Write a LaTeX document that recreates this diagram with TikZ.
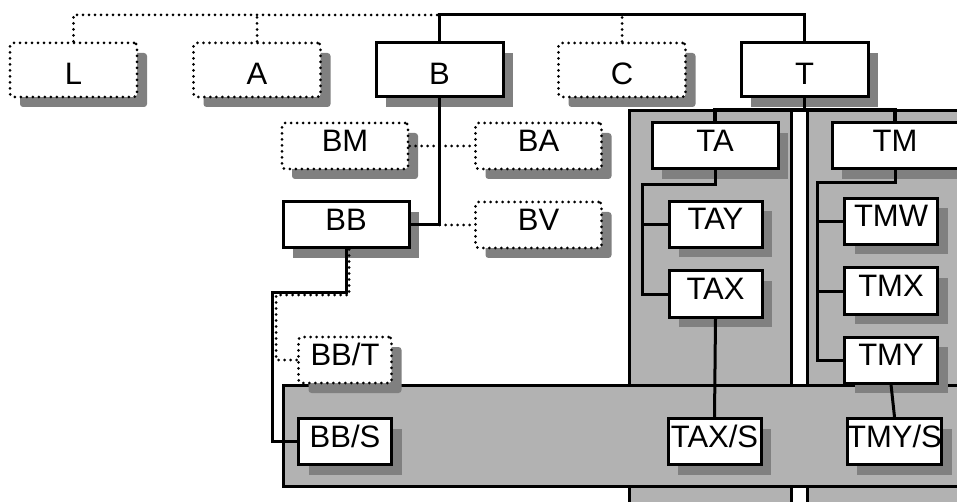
\documentclass[tikz,border=0pt]{standalone}
\usepackage{fontspec}
\setmainfont{Liberation Sans}
\usetikzlibrary{shadows}
\definecolor{panelgray}{gray}{0.7}
\definecolor{shadegray}{gray}{0.5}
\begin{document}
\begin{tikzpicture}[x=1pt,y=-1pt,
    box/.style={draw, line width=3pt, fill=white, inner sep=0pt, font=\fontsize{31}{36}\selectfont,
        drop shadow={shadow xshift=10pt, shadow yshift=-10pt, fill=shadegray, opacity=1}},
    dotbox/.style={box, dash pattern=on 0pt off 6pt, line cap=round, rounded corners=3pt},
    big/.style={minimum width=127pt, minimum height=54pt, text height=30pt, text depth=0pt},
    mid/.style={minimum width=126pt, minimum height=46pt, text height=22pt, text depth=11pt},
    small/.style={minimum width=93pt, minimum height=46pt, text height=22pt, text depth=11pt},
    conn/.style={line width=3pt},
    dotconn/.style={line width=3pt, dash pattern=on 0pt off 6pt, line cap=round},
    panel/.style={draw, line width=3pt, fill=panelgray}]
    \clip (0,0) rectangle (957,502);
    \useasboundingbox (0,0) rectangle (957,502);
    % grey areas
    \draw[panel] (629,111) rectangle (791,530);
    \draw[panel] (807,111) rectangle (970,530);
    \draw[panel] (283,385) rectangle (970,486);
    \coordinate (rootbar) at (0,15);
    \coordinate (tbar) at (0,110);
    % top row
    \node[dotbox, big] (L) at (73.5,70) {L};
    \node[dotbox, big] (A) at (257,70) {A};
    \node[box, big] (B) at (439.5,70) {B};
    \node[dotbox, big] (C) at (622,70) {C};
    \node[box, big] (T) at (804.5,70) {T};
    % B branch
    \node[dotbox, mid] (BM) at (345,146) {BM};
    \node[dotbox, mid] (BA) at (538.5,146) {BA};
    \node[box, mid] (BB) at (346,225) {BB};
    \node[dotbox, mid] (BV) at (538.5,225) {BV};
    \node[dotbox, small] (BBT) at (345,360) {BB/T};
    \node[box, small] (BBS) at (345,441.5) {BB/S};
    % T branch
    \node[box, mid] (TA) at (715,146) {TA};
    \node[box, mid] (TM) at (895,146) {TM};
    \node[box, small] (TAY) at (715.5,224.5) {TAY};
    \node[box, small] (TAX) at (715.5,294) {TAX};
    \node[box, small] (TAXS) at (714.5,441.5) {TAX/S};
    \node[box, small] (TMW) at (891,221.5) {TMW};
    \node[box, small] (TMX) at (891,291) {TMX};
    \node[box, small] (TMY) at (891,360) {TMY};
    \node[box, small] (TMYS) at (894.5,441.5) {TMY/S};
    % connectors
    \draw[dotconn] (L.north) |- (rootbar -| B.north);
    \draw[dotconn] (A.north) -- (A.north |- rootbar);
    \draw[dotconn] (C.north) -- (C.north |- rootbar);
    \draw[conn] (B.north) |- (rootbar -| T.north) -- (T.north);
    \draw[dotconn] (BM.east) -- (BA.west);
    \draw[conn] (B.south) |- (BB.east);
    \draw[dotconn] (B.south |- BV.west) -- (BV.west);
    \draw[dotconn] ([xshift=3pt]BB.south) |- (276,295) |- (BBT.west);
    \draw[conn] (BB.south) |- (272,292) |- (BBS.west);
    \draw[conn] (T.south) -- (T.south |- tbar);
    \draw[line width=4.5pt] (TA.north) |- (tbar -| TM.north) -- (TM.north);
    \coordinate (taspine) at (642,185);
    \draw[conn] (TA.south) |- (taspine) |- (TAX.west);
    \draw[conn] (taspine |- TAY.west) -- (TAY.west);
    \coordinate (tmspine) at (817,183);
    \draw[conn] (TM.south) |- (tmspine) |- (TMY.west);
    \draw[conn] (tmspine |- TMW.west) -- (TMW.west);
    \draw[conn] (tmspine |- TMX.west) -- (TMX.west);
    \draw[conn] (TAX.south) -- (TAXS.north);
    \draw[conn] (TMY.south) -- (TMYS.north);
\end{tikzpicture}
\end{document}
